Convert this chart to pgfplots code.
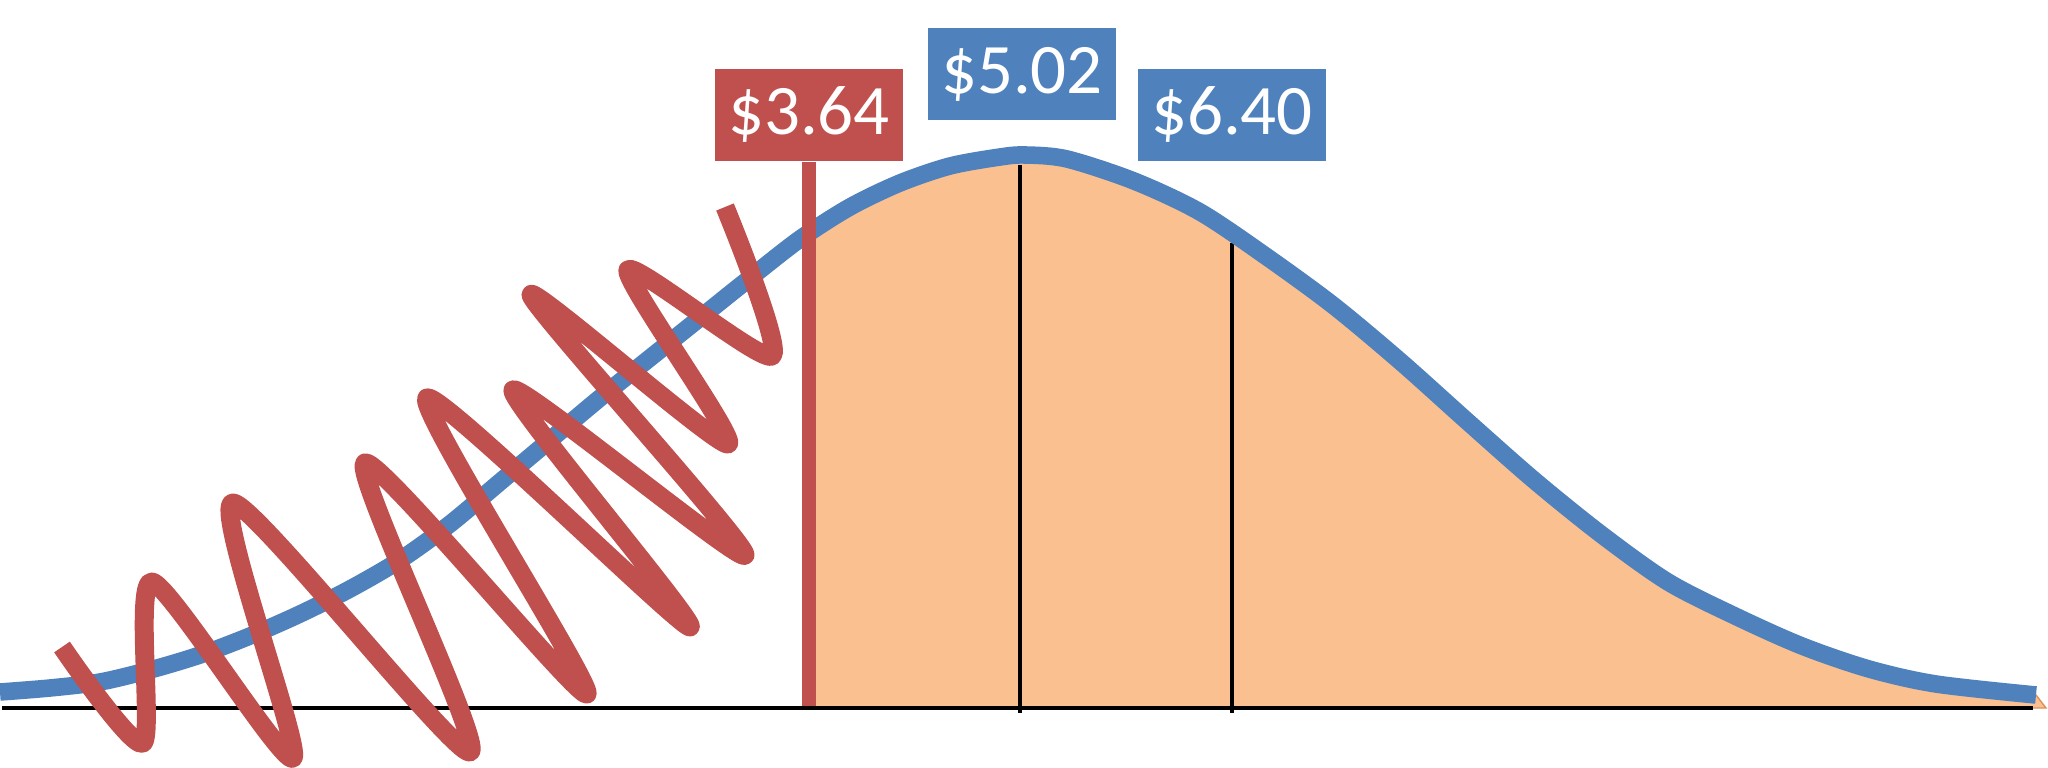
\documentclass[border=0pt]{standalone}
\usepackage{pgfplots}
\pgfplotsset{compat=1.18}
\usepackage{fontspec}
\setmainfont{Carlito}
\definecolor{cred}{HTML}{C0504D}
\definecolor{cblue}{HTML}{4F81BD}
\definecolor{corange}{HTML}{FAC090}
\definecolor{cedge}{HTML}{D9925A}
\begin{document}
\begin{tikzpicture}
\begin{axis}[
  width=20.48cm, height=7.68cm, scale only axis,
  xmin=0, xmax=2048, ymin=0, ymax=768, y dir=reverse,
  hide axis, clip=false]
% shaded area
\addplot[fill=corange, draw=cedge, line width=0.4pt] coordinates {
 (809,708) (809,234) (850,207) (900,183) (950,166) (1000,157) (1025,155) (1067,159)
 (1134,181) (1200,212) (1267,257) (1334,306) (1401,362) (1468,422) (1535,481)
 (1602,535) (1668,582) (1735,616) (1802,646) (1869,669) (1936,684) (2036,695) (2046,708)} -- cycle;
% black verticals
\addplot[black, line width=1.15pt] coordinates {(1020,165) (1020,713)};
\addplot[black, line width=1.15pt] coordinates {(1232,243) (1232,713)};
% baseline
\addplot[black, line width=1.4pt] coordinates {(2,708) (2033,708)};
% blue curve
\addplot[cblue, line width=5pt, smooth, tension=0.5, line cap=butt] coordinates {
 (0,692) (50,688) (100,682) (150,670) (200,655) (250,636) (300,614) (350,589) (400,560)
 (450,524) (500,482) (550,440) (600,398) (650,358) (700,318) (750,278) (800,239)
 (850,207) (900,183) (950,166) (1000,157) (1025,155) (1067,159) (1134,181) (1200,212)
 (1267,257) (1334,306) (1401,362) (1468,422) (1535,481) (1602,535) (1668,582)
 (1735,616) (1802,646) (1869,669) (1936,684) (2036,695)};
% red vertical
\addplot[cred, line width=4.2pt, line cap=butt] coordinates {(809,162) (809,706)};
% scribble
\addplot[cred, line width=5.4pt, smooth, tension=0.42, line join=round, line cap=butt] coordinates {
 (62,647) (143,743) (152,582) (293,758) (233,503) (470,752) (365,463) (587,694)
 (427,398) (690,627) (513,390) (745,555) (531,295) (728,444) (628,270) (772,356) (725,207)};
% label boxes
\fill[cred] (axis cs:715,69) rectangle (axis cs:903,161);
\fill[cblue] (axis cs:928,28) rectangle (axis cs:1116,120);
\fill[cblue] (axis cs:1138,69) rectangle (axis cs:1326,161);
\node[anchor=base, text=white, inner sep=0pt, font=\fontsize{20.2}{24}\selectfont] at (axis cs:809,135) {\$3.64};
\node[anchor=base, text=white, inner sep=0pt, font=\fontsize{20.2}{24}\selectfont] at (axis cs:1022,94) {\$5.02};
\node[anchor=base, text=white, inner sep=0pt, font=\fontsize{20.2}{24}\selectfont] at (axis cs:1232,135) {\$6.40};
\end{axis}
\pgfresetboundingbox
\path (current axis.south west) rectangle (current axis.north east);
\end{tikzpicture}
\end{document}
